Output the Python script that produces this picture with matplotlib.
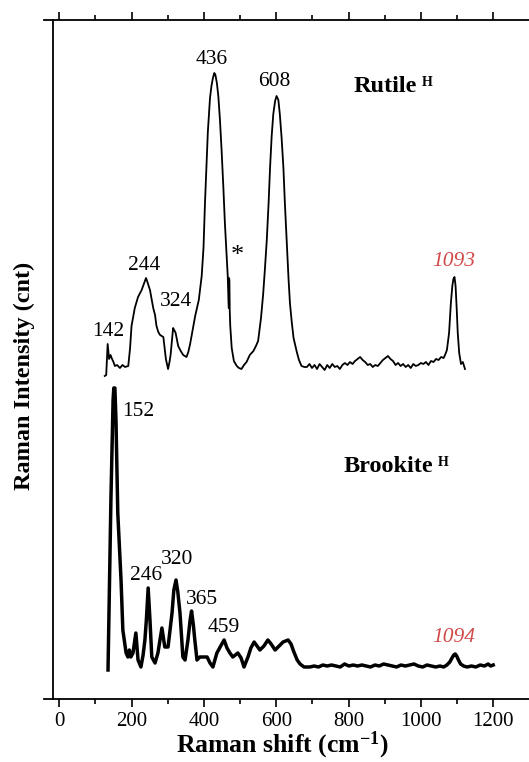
import matplotlib
matplotlib.use("Agg")
import matplotlib.pyplot as plt
from matplotlib.ticker import MultipleLocator

plt.rcParams['font.family'] = ['Liberation Serif', 'DejaVu Serif']
plt.rcParams['mathtext.fontset'] = 'custom'
plt.rcParams['mathtext.rm'] = 'Liberation Serif'
plt.rcParams['mathtext.bf'] = 'Liberation Serif:bold'
plt.rcParams['mathtext.it'] = 'Liberation Serif:italic'

# ---- data (Raman shift in cm-1, intensity in arbitrary units) ----
rutile_x = [126, 130, 134, 138, 142, 145, 150, 154, 160, 168, 175, 182, 191, 196, 200, 209,
            218, 228, 237, 240, 243, 251, 260, 265, 269, 274, 279, 288, 295, 301, 305, 308,
            312, 315, 318, 322, 329, 336, 343, 352, 357, 362, 371, 376, 381, 386, 390, 394,
            399, 403, 407, 411, 417, 421, 425, 429, 432, 436, 440, 444.5, 449, 454, 458, 462.5,
            466, 468, 469, 469.6, 470.6, 471.5, 473, 477, 483, 491, 497, 504, 511, 518, 527,
            537, 544, 550, 558, 564, 569, 574, 579, 583, 587.5, 592, 597, 601, 606, 610, 615,
            620, 624, 629, 634, 638, 643, 648, 657, 663, 670, 678,
            685, 692, 699, 706, 713, 720, 727, 734, 741, 748, 755, 762, 769, 776, 783, 790,
            797, 804, 811, 818, 825, 832, 839, 846, 853, 860, 867, 874, 881, 888, 895, 902,
            909, 916, 923, 930, 937, 944, 951, 958, 965, 972, 979, 986, 993, 1000, 1007,
            1014, 1021, 1028, 1035, 1042, 1049, 1056, 1063, 1068,
            1072, 1078, 1083, 1087, 1090, 1093, 1096, 1099, 1102, 1106, 1111, 1116, 1122]
rutile_y = [322, 323, 354, 339, 343, 340, 336, 332, 333, 330, 333, 331, 332, 350, 372, 390,
            401, 408, 417, 420, 417, 408, 390, 383, 372, 366, 363, 361, 339, 329, 336, 343,
            358, 370, 368, 365, 352, 347, 343, 341, 346, 354, 372, 382, 390, 398, 410, 422,
            450, 494, 530, 566, 600, 612, 620, 625, 623, 615, 602, 578, 548, 510, 476, 445,
            422, 398, 390, 420, 418, 388, 372, 350, 337, 332, 330, 329, 333, 336, 343,
            347, 352, 357, 380, 404, 430, 458, 495, 530, 562, 584, 597, 602, 598, 584, 560,
            530, 495, 458, 420, 395, 376, 360, 346, 338, 332, 331,
            331, 334, 330, 333, 329, 334, 331, 328, 333, 330, 334, 331, 332, 329, 333, 335,
            333, 336, 334, 337, 339, 341, 338, 336, 333, 334, 331, 333, 332, 335, 338, 340,
            342, 339, 337, 333, 335, 332, 334, 331, 333, 330, 334, 332, 333, 335, 334,
            336, 333, 337, 336, 339, 338, 341, 340, 344,
            348, 365, 395, 412, 419, 421, 412, 390, 365, 345, 334, 336, 329]

brookite_x = [135, 143, 149, 151, 154, 157, 162, 171, 176, 185, 190, 194, 198, 204, 212, 218,
              226, 232, 237, 241, 246, 251, 256, 265, 273, 284, 292, 301, 312, 317, 323, 328,
              334, 342, 348, 356, 362, 366, 371, 375, 381, 389, 400, 409, 417, 425, 436, 445,
              456, 464, 472, 480, 494, 503, 511, 522, 530, 539, 547, 555, 566, 577, 586, 597,
              608, 619, 633, 641, 649, 658, 666, 677,
              693, 705, 717, 729, 741, 753, 765, 777, 789, 801, 813, 825, 837, 849, 861, 873,
              885, 897, 909, 921, 933, 945, 957, 969, 981, 993, 1005, 1017, 1029, 1041, 1053,
              1063, 1072, 1080, 1086, 1091, 1095, 1099, 1104, 1110, 1118, 1128, 1140, 1152,
              1164, 1176, 1186, 1193, 1200]
brookite_y = [28, 198, 298, 310, 310, 278, 185, 118, 68, 45, 41, 48, 41, 45, 65, 38,
              31, 43, 58, 78, 110, 78, 41, 35, 45, 70, 51, 51, 85, 108, 118, 106,
              85, 41, 38, 58, 78, 87, 73, 58, 38, 41, 41, 41, 35, 31, 45, 51,
              58, 50, 45, 41, 45, 40, 31, 41, 50, 56, 52, 48, 52, 58, 54, 48,
              52, 56, 58, 54, 46, 38, 34, 31,
              31, 32, 31, 33, 32, 33, 32, 31, 34, 32, 33, 32, 33, 32, 31, 33,
              32, 34, 33, 32, 31, 33, 32, 33, 34, 32, 31, 33, 32, 31, 32,
              31, 33, 36, 40, 43, 44, 42, 38, 34, 32, 31, 32, 31,
              33, 32, 34, 32, 33]

rutile_labels = ['142', '244', '324', '436', '608', '*']
rutile_label_x = [135, 236, 322, 422, 594, 492]
rutile_label_y = [367, 432, 396, 638, 617, 442]

brookite_labels = ['152', '246', '320', '365', '459']
brookite_label_x = [218, 240, 326, 395, 456]
brookite_label_y = [287, 122, 139, 98, 71]

# ---- figure ----
W, H = 529, 762
fig = plt.figure(figsize=(W / 100, H / 100), dpi=100)
ax = fig.add_axes([44 / W, (H - 699) / H, (W - 44) / W, (699 - 20) / H])

ax.plot(rutile_x, rutile_y, color='black', lw=1.3, solid_joinstyle='round')
ax.plot(brookite_x, brookite_y, color='black', lw=2.5, solid_joinstyle='round')

ax.set_xlim(-42, 1299)
ax.set_ylim(-1, 678)

ax.spines['left'].set_position(('data', -16))
ax.spines['right'].set_visible(False)
for s in ax.spines.values():
    s.set_linewidth(1.3)

ax.xaxis.set_major_locator(MultipleLocator(200))
ax.xaxis.set_minor_locator(MultipleLocator(100))
ax.tick_params(axis='x', which='both', direction='out', top=True, bottom=True,
               labeltop=False, labelsize=15, width=1.2, pad=3)
ax.tick_params(axis='x', which='major', length=6)
ax.tick_params(axis='x', which='minor', length=3.5)
ax.set_xticks(range(0, 1201, 200))
ax.set_yticks([])

for lab, x, y in zip(rutile_labels, rutile_label_x, rutile_label_y):
    ax.text(x, y, lab, ha='center', va='center', fontsize=19 if lab == '*' else 15.5)
for lab, x, y in zip(brookite_labels, brookite_label_x, brookite_label_y):
    ax.text(x, y, lab, ha='center', va='center', fontsize=15.5)

ax.text(1090, 436, '1093', ha='center', va='center', fontsize=15.5,
        style='italic', color='#d24b4b')
ax.text(1092, 61, '1094', ha='center', va='center', fontsize=15.5,
        style='italic', color='#d24b4b')

# sample names with superscript H
for name, xr, yb in [('Rutile', 989, 606), ('Brookite', 1033, 226)]:
    ax.text(xr, yb, name, ha='right', va='baseline', fontsize=17.5, fontweight='bold')
    ax.annotate('H', xy=(xr, yb), xytext=(3.5, 4.2), textcoords='offset points',
                ha='left', va='baseline', fontsize=10, fontweight='bold')

fig.text(282 / W, 1 - 752 / H, r'Raman shift (cm$^{\mathbf{-1}}$)', ha='center', va='baseline',
         fontsize=18.5, fontweight='bold')
fig.text(24 / W, 1 - 376 / H, 'Raman Intensity (cnt)', ha='center', va='center',
         rotation=90, fontsize=17.5, fontweight='bold')

fig.savefig('out.png', dpi=100)
